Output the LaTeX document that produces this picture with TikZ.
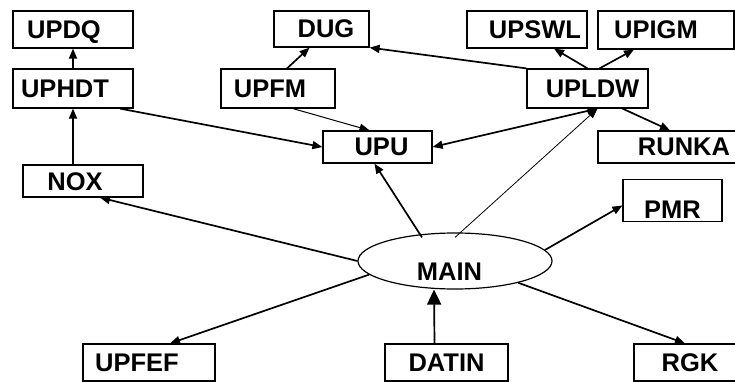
\documentclass[tikz,border=0pt]{standalone}
\usepackage{fontspec}
\setmainfont{Liberation Sans}
\usetikzlibrary{arrows.meta, positioning, shapes.geometric}

\begin{document}
\begin{tikzpicture}[x=1pt, y=-1pt, >={Triangle[length=10pt, width=8pt]},
        every node/.style={draw, rectangle, line width=1.2pt, minimum height=37pt,
                text height=18pt, text depth=0pt, font=\bfseries\fontsize{25.5}{30}\selectfont},
        textshift/.style={execute at begin node={\hspace*{#1}}},
        conn/.style={->, line width=1.7pt},
        thinconn/.style={->, line width=0.8pt}]
        \clip (0,0) rectangle (735,382);

        \node[minimum width=120pt, textshift=-18pt] (UPDQ) at (73,29.5) {UPDQ};
        \node[minimum width=120pt, minimum height=39pt, textshift=-16pt] (UPHDT) at (73,88.5) {UPHDT};
        \node[minimum width=120pt, minimum height=32pt, textshift=-16pt] (NOX) at (83,181) {NOX};
        \node[minimum width=95pt, minimum height=36pt, textshift=9pt] (DUG) at (321.5,29) {DUG};
        \node[minimum width=114pt, minimum height=39pt, textshift=-16pt] (UPFM) at (278,88.5) {UPFM};
        \node[minimum width=109pt, minimum height=32pt, textshift=8pt] (UPU) at (377.5,147) {UPU};
        \node[minimum width=120pt, textshift=16pt] (UPSWL) at (527,29.5) {UPSWL};
        \node[minimum width=136pt, minimum height=38pt, textshift=-20pt] (UPIGM) at (666,30) {UPIGM};
        \node[minimum width=121pt, minimum height=39pt, textshift=10pt] (UPLDW) at (587.5,88.5) {UPLDW};
        \node[minimum width=172pt, minimum height=32pt] (RUNKA) at (684,147) {RUNKA};
        \node[minimum width=99pt, text height=35pt] (PMR) at (672.5,200.5) {PMR};
        \node[ellipse, inner sep=0pt, minimum width=194pt, minimum height=56pt,
                text height=38pt, textshift=-11pt] (MAIN) at (455,261) {MAIN};
        \node[minimum width=132pt, textshift=-24pt] (UPFEF) at (149,362.5) {UPFEF};
        \node[minimum width=123pt] (DATIN) at (446.5,362.5) {DATIN};
        \node[minimum width=112pt] (RGK) at (690,362.5) {RGK};

        \draw[conn] (UPHDT.north) -- (UPDQ.south);
        \draw[conn] (NOX.north -| UPHDT.south) -- (UPHDT.south);
        \draw[conn] ([xshift=47pt]UPHDT.south) -- (UPU.west);
        \draw[conn] ([xshift=9pt]UPFM.north) -- ([xshift=-12pt]DUG.south);
        \draw[->, line width=1pt] ([xshift=15pt]UPFM.south) -- ([xshift=-8pt]UPU.north);
        \draw[conn] (UPLDW.north west) -- (DUG.south east);
        \draw[conn] (UPLDW.north) -- ([xshift=27pt]UPSWL.south);
        \draw[conn] ([xshift=12pt]UPLDW.north) -- ([xshift=-32pt]UPIGM.south);
        \draw[conn] ([xshift=35pt]UPLDW.south) -- ([xshift=-14pt]RUNKA.north);
        \draw[conn, <->] (UPU.east) -- ([xshift=10pt]UPLDW.south);
        \draw[thinconn] ([yshift=-5pt]MAIN.north) -- ([xshift=10pt]UPLDW.south);
        \draw[conn] ([xshift=-33pt, yshift=-5pt]MAIN.north) -- ([xshift=-3pt]UPU.south);
        \draw[conn] (MAIN.west) -- ([xshift=17pt]NOX.south);
        \draw[conn] (MAIN.7) -- ([yshift=-5pt]PMR.west);
        \draw[conn] (MAIN.189) -- ([xshift=21pt]UPFEF.north);
        \draw[conn, -{Triangle[length=15pt, width=14pt]}] ([xshift=-12pt]DATIN.north) -- ([xshift=-21pt]MAIN.south);
        \draw[conn] (MAIN.-19) -- ([xshift=-5pt]RGK.north);
\end{tikzpicture}
\end{document}
